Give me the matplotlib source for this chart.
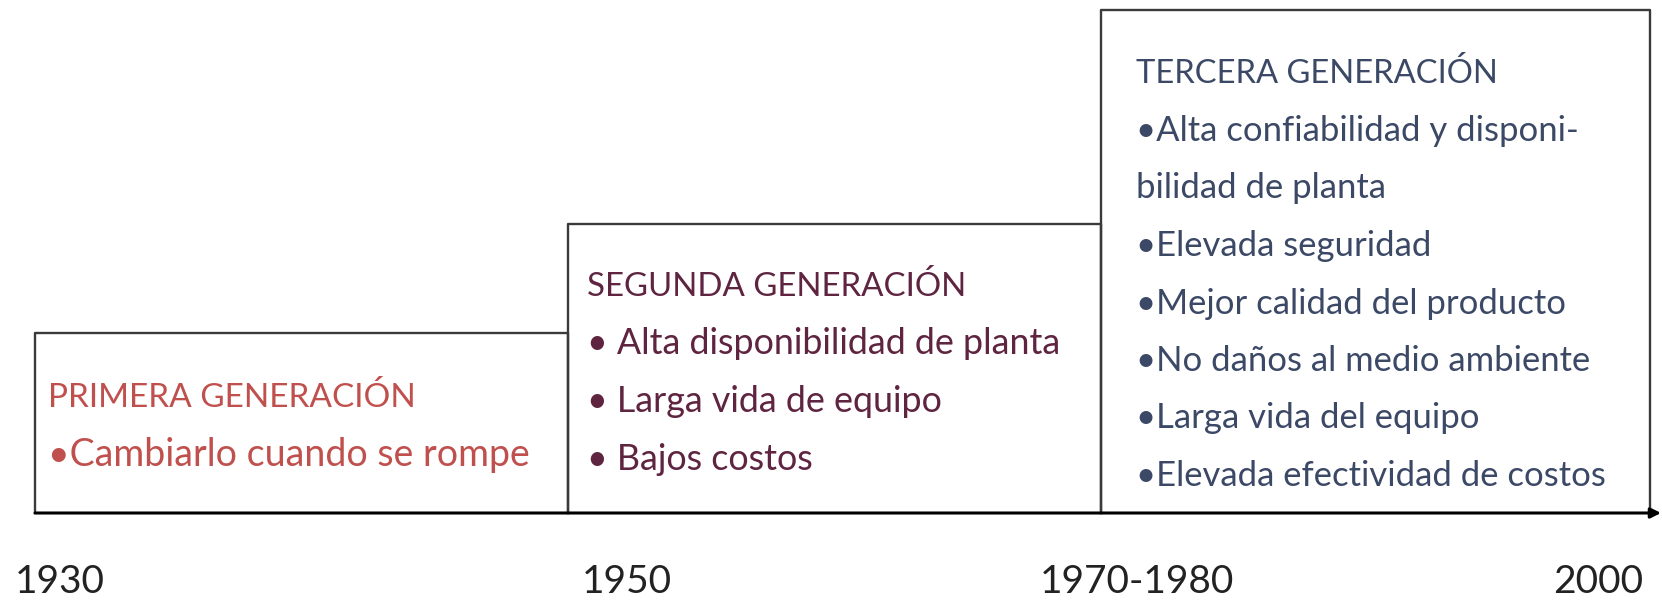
import matplotlib.pyplot as plt

years = ["1930", "1950", "1970-1980", "2000"]
titles = ["PRIMERA GENERACIÓN", "SEGUNDA GENERACIÓN", "TERCERA GENERACIÓN"]
items_1 = ["•Cambiarlo cuando se rompe"]
items_2 = ["• Alta disponibilidad de planta", "• Larga vida de equipo", "• Bajos costos"]
items_3 = ["•Alta confiabilidad y disponi-", "bilidad de planta", "•Elevada seguridad",
           "•Mejor calidad del producto", "•No daños al medio ambiente",
           "•Larga vida del equipo", "•Elevada efectividad de costos"]
colors = ["#C0504D", "#5E2440", "#3B4866"]

# layout in pixels (figure is 1662 x 603)
edges = [35, 568, 1101, 1650]
tops = [333, 224, 10]
base = 513
text_x = [48, 587, 1136]
last_line = [455, 459, 476]
step = 57.5
year_x = [60, 627, 1137, 1598]
title_size = [24, 23.8, 23.6]
item_size = [27, 25.8, 24.9]

plt.rcParams["font.family"] = ["Lato", "DejaVu Sans"]

fig = plt.figure(figsize=(16.62, 6.03), dpi=100)
ax = fig.add_axes([0, 0, 1, 1])
ax.set_xlim(0, 1662)
ax.set_ylim(603, 0)
ax.axis("off")

line_color = "#3a3a3a"
for i in range(3):
    ax.plot([edges[i], edges[i], edges[i + 1], edges[i + 1]],
            [base, tops[i], tops[i], base], color=line_color, lw=1.7,
            solid_capstyle="projecting")

ax.annotate("", xy=(1661, base), xytext=(edges[0], base),
            arrowprops=dict(arrowstyle="-|>,head_length=0.6,head_width=0.3",
                            color="black", lw=2.2, shrinkA=0, shrinkB=0))

for i, items in enumerate([items_1, items_2, items_3]):
    lines = [titles[i]] + items
    n = len(lines)
    for j, txt in enumerate(lines):
        y = last_line[i] - (n - 1 - j) * step
        size = title_size[i] if j == 0 else item_size[i]
        ax.text(text_x[i], y, txt, color=colors[i], fontsize=size,
                ha="left", va="center")

for x, lab in zip(year_x, years):
    ax.text(x, 582, lab, color="#222222", fontsize=28, ha="center", va="center")

fig.savefig("out.png", dpi=100)
